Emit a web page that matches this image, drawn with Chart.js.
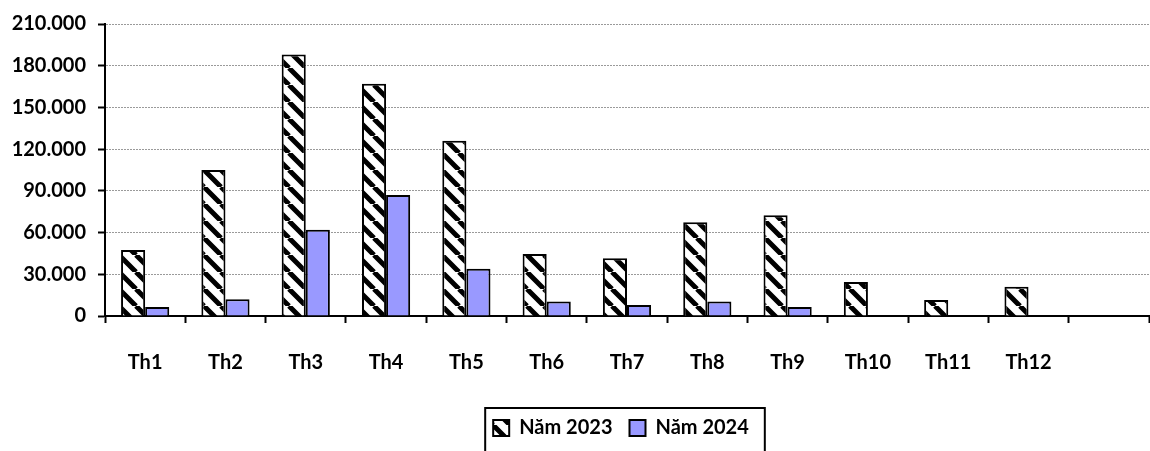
<!DOCTYPE html>
<html>
<head>
<meta charset="utf-8">
<script src="https://cdn.jsdelivr.net/npm/chart.js@4/dist/chart.umd.min.js"></script>
<style>
html,body{margin:0;padding:0;background:#fff;}
#wrap{width:1150px;height:451px;position:relative;}
</style>
</head>
<body>
<div id="wrap"><canvas id="c" width="1150" height="451"></canvas></div>
<script>
const categories = ['Th1','Th2','Th3','Th4','Th5','Th6','Th7','Th8','Th9','Th10','Th11','Th12',''];
const seriesNames = ['Năm 2023','Năm 2024'];
const values2023 = [47500,105000,188000,167000,126000,44500,41500,67500,72500,24500,11500,21000,null];
const values2024 = [6500,12000,62000,87000,34000,10500,8000,10500,6500,null,null,null,null];
const yTicks = {min:0, max:210000, step:30000};

function hatch(){
  const s=17, c=document.createElement('canvas');
  c.width=s; c.height=s;
  const g=c.getContext('2d');
  g.fillStyle='#fff'; g.fillRect(0,0,s,s);
  g.strokeStyle='#000'; g.lineWidth=5;
  g.beginPath();
  for(let k=-1;k<=1;k++){ g.moveTo(k*s,0); g.lineTo(k*s+s,s); }
  g.stroke();
  return g.createPattern(c,'repeat');
}
const FONT = {family:'Lato', weight:'bold', size:20};

const legendShift = {
  id:'legendShift',
  afterLayout(chart){ chart.legend.left += 93; }
};
const legendBox = {
  id:'legendBox',
  afterDraw(chart){
    const lg=chart.legend, hb=lg.legendHitBoxes;
    if(!hb||!hb.length) return;
    const ctx=chart.ctx;
    const first=hb[0], last=hb[hb.length-1];
    const cy=first.top+first.height/2;
    const l=first.left-8, r=last.left+last.width+16, t=cy-20;
    ctx.save();
    ctx.strokeStyle='#000'; ctx.lineWidth=2;
    ctx.strokeRect(l,t,r-l,80);
    ctx.restore();
  }
};

new Chart(document.getElementById('c'),{
  type:'bar',
  data:{
    labels:categories,
    datasets:[
      {label:seriesNames[0], data:values2023, backgroundColor:hatch(), borderColor:'#000', borderWidth:2,
       categoryPercentage:0.6, barPercentage:1.0},
      {label:seriesNames[1], data:values2024, backgroundColor:'#9999FF', borderColor:'#000', borderWidth:2,
       categoryPercentage:0.6, barPercentage:1.0}
    ]
  },
  options:{
    responsive:false, animation:false,
    layout:{padding:{left:0,right:1,top:12,bottom:3}},
    plugins:{
      tooltip:{enabled:false},
      legend:{position:'bottom',
        labels:{color:'#000', font:FONT, boxWidth:16, boxHeight:16, padding:17}},
    },
    scales:{
      x:{
        grid:{drawOnChartArea:false, drawTicks:true, tickLength:7, tickColor:'#000', tickWidth:2, offset:true},
        border:{color:'#000', width:2},
        ticks:{color:'#000', font:FONT, padding:28, maxRotation:0, autoSkip:false},
        afterFit(s){ s.height=85; }
      },
      y:{
        min:yTicks.min, max:yTicks.max,
        grid:{color:'#9a9a9a', lineWidth:1, tickColor:'#000', tickLength:7, tickWidth:2, tickBorderDash:[]},
        border:{color:'#000', width:2, dash:[2,1]},
        ticks:{color:'#000', font:FONT, stepSize:yTicks.step, padding:12,
          callback:v=>String(v).replace(/\B(?=(\d{3})+(?!\d))/g,'.')},
        afterFit(s){ s.width=105; }
      }
    }
  },
  plugins:[legendShift, legendBox]
});
</script>
</body>
</html>
